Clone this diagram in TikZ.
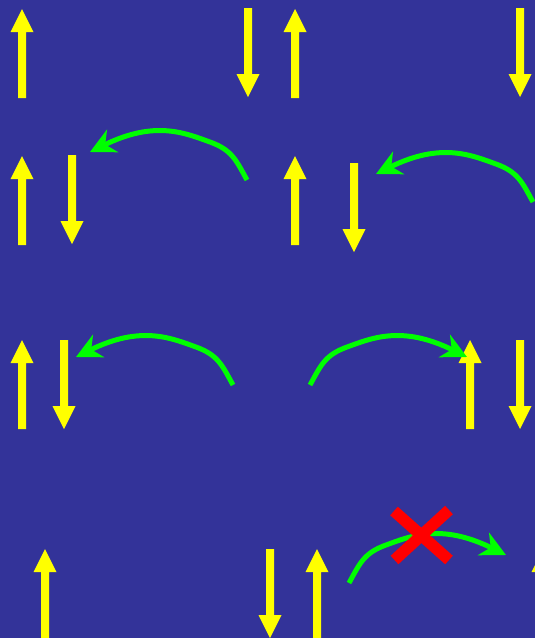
\documentclass[tikz,border=0pt]{standalone}
\usetikzlibrary{arrows.meta}
\definecolor{bgblue}{HTML}{333399}
\definecolor{spinyellow}{HTML}{FFFF00}
\definecolor{hopgreen}{HTML}{00FF00}
\definecolor{crossred}{HTML}{FF0000}
\begin{document}
\begin{tikzpicture}[x=1pt,y=-1pt,
  spinup/.pic={\fill[spinyellow] (-4,89) -- (-4,23) -- (-11.5,23) -- (0,0) -- (11.5,23) -- (4,23) -- (4,89) -- cycle;},
  spindown/.pic={\fill[spinyellow] (-4,0) -- (-4,66) -- (-11.5,66) -- (0,89) -- (11.5,66) -- (4,66) -- (4,0) -- cycle;},
  hop/.style={draw=hopgreen, line width=5pt, -{Stealth[length=25pt,width=25pt,inset=8pt]}},
  hopcurve/.pic={\draw[hop] (0,0) .. controls (-11,-20) and (-15,-30) .. (-37,-38) .. controls (-62,-47) and (-92,-60) .. (-157,-28);},
  xmark/.style={draw=crossred, line width=11.5pt}
]
\fill[bgblue] (0,0) rectangle (535,638);
\useasboundingbox (0,0) rectangle (535,638);
\clip (0,0) rectangle (535,638);
% row 1
\pic at (22,9) {spinup};
\pic at (248,8) {spindown};
\pic at (295,9) {spinup};
\pic at (520,8) {spindown};
% row 2
\pic at (22,156) {spinup};
\pic at (72,155) {spindown};
\pic at (295,156) {spinup};
\pic at (354,163) {spindown};
% row 3
\pic at (22,340) {spinup};
\pic at (64,340) {spindown};
\pic at (470,340) {spinup};
\pic at (520,340) {spindown};
% row 4
\pic at (45,549) {spinup};
\pic at (270,549) {spindown};
\pic at (317,549) {spinup};
\pic at (543,549) {spinup};
% hops
\pic at (247,180) {hopcurve};
\pic at (533,202) {hopcurve};
\pic at (233,385) {hopcurve};
\pic[xscale=-1] at (310,385) {hopcurve};
\pic[xscale=-1] at (349,583) {hopcurve};
% forbidden mark
\coordinate (xa) at (394,511);
\coordinate (xb) at (449,560);
\coordinate (xc) at (449,510);
\coordinate (xd) at (394.5,560);
\draw[xmark] (xa) -- (xb);
\draw[xmark] (xc) -- (xd);
\end{tikzpicture}
\end{document}
